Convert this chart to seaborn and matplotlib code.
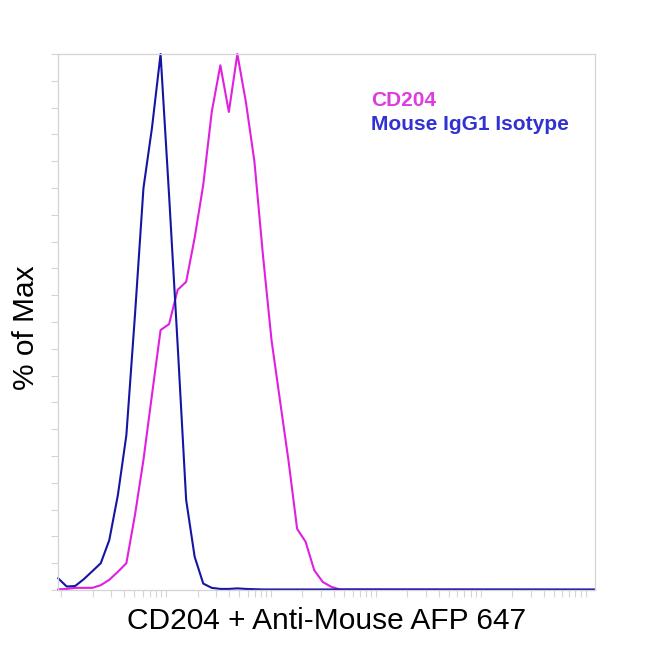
"""
Histograma de citometría: CD204 vs isotipo Mouse IgG1 (% of Max).
"""
import numpy as np
import pandas as pd
import matplotlib
matplotlib.use("Agg")
import matplotlib.pyplot as plt
from matplotlib.ticker import LogLocator, NullFormatter
import seaborn as sns

# centros de bin en log10 (canal de fluorescencia), el último es el final del eje
bin_log10 = [-0.029, 0.053, 0.134, 0.215, 0.297, 0.378, 0.459, 0.541, 0.622, 0.704,
             0.785, 0.866, 0.948, 1.029, 1.111, 1.192, 1.273, 1.355, 1.436, 1.518,
             1.599, 1.680, 1.762, 1.843, 1.924, 2.006, 2.087, 2.168, 2.250, 2.331,
             2.413, 2.494, 2.575, 2.657, 5.09]

cd204_pct = [0.13, 0.2, 0.4, 0.4, 0.4, 0.9, 1.9, 3.4, 5.0, 14.0,
             24.3, 36.4, 48.5, 49.6, 56.0, 57.5, 65.7, 75.6, 89.2, 97.9,
             89.2, 100.0, 91.0, 79.9, 62.5, 46.6, 35.3, 24.1, 11.4, 9.0,
             3.7, 1.5, 0.6, 0.1, 0.0]

isotype_pct = [2.2, 0.65, 0.75, 2.0, 3.5, 5.0, 9.3, 17.7, 28.9, 51.3,
               75.0, 86.2, 100.0, 73.7, 45.7, 16.8, 6.2, 1.2, 0.4, 0.2,
               0.2, 0.3, 0.2, 0.15, 0.1, 0.1, 0.1, 0.1, 0.1, 0.1,
               0.1, 0.1, 0.1, 0.1, 0.1]

series_names = ["CD204", "Mouse IgG1 Isotype"]
series_colors = ["#e020e0", "#1515a5"]
label_colors = ["#dd3ddd", "#3232d2"]

x_label = "CD204 + Anti-Mouse AFP 647"
y_label = "% of Max"

fluor = 10 ** np.array(bin_log10)
df = pd.concat([
    pd.DataFrame({"fluor": fluor, "pct": cd204_pct, "serie": series_names[0]}),
    pd.DataFrame({"fluor": fluor, "pct": isotype_pct, "serie": series_names[1]}),
])

sns.set_style("white")
plt.rcParams["font.family"] = ["Liberation Sans", "DejaVu Sans"]

fig = plt.figure(figsize=(6.5, 6.5), dpi=100)
ax = fig.add_axes([0.0892, 0.0923, 0.8262, 0.8246])

sns.lineplot(data=df, x="fluor", y="pct", hue="serie", hue_order=series_names,
             palette=series_colors, linewidth=1.5, legend=False, ax=ax,
             estimator=None, sort=False, clip_on=False)

ax.set_xscale("log")
ax.set_xlim(10 ** -0.03, 10 ** 5.09)
ax.set_ylim(0, 100)

# ticks muy tenues, sin etiquetas
grey = "#d4d4d4"
ax.set_yticks(np.arange(0, 101, 5))
ax.xaxis.set_major_locator(LogLocator(base=10, numticks=10))
ax.xaxis.set_minor_locator(LogLocator(base=10, subs=np.arange(2, 10), numticks=20))
ax.xaxis.set_major_formatter(NullFormatter())
ax.xaxis.set_minor_formatter(NullFormatter())
ax.set_yticklabels([])
ax.tick_params(axis="both", which="both", direction="out", color=grey,
               length=5, width=0.8, left=True, bottom=True)
for side in ["left", "right", "top", "bottom"]:
    ax.spines[side].set_color(grey)
    ax.spines[side].set_linewidth(0.9)

ax.set_xlabel(x_label, fontsize=21.5, labelpad=4, color="black")
ax.set_ylabel(y_label, fontsize=21.5, color="black")
ax.yaxis.set_label_coords(-0.034, 0.489)

# leyenda como texto coloreado
ax.text(0.583, 0.913, series_names[0], transform=ax.transAxes, color=label_colors[0],
        fontsize=15, fontweight="bold", va="center", ha="left")
ax.text(0.583, 0.869, series_names[1], transform=ax.transAxes, color=label_colors[1],
        fontsize=15, fontweight="bold", va="center", ha="left")

fig.savefig("out.png", dpi=100)
plt.close(fig)
